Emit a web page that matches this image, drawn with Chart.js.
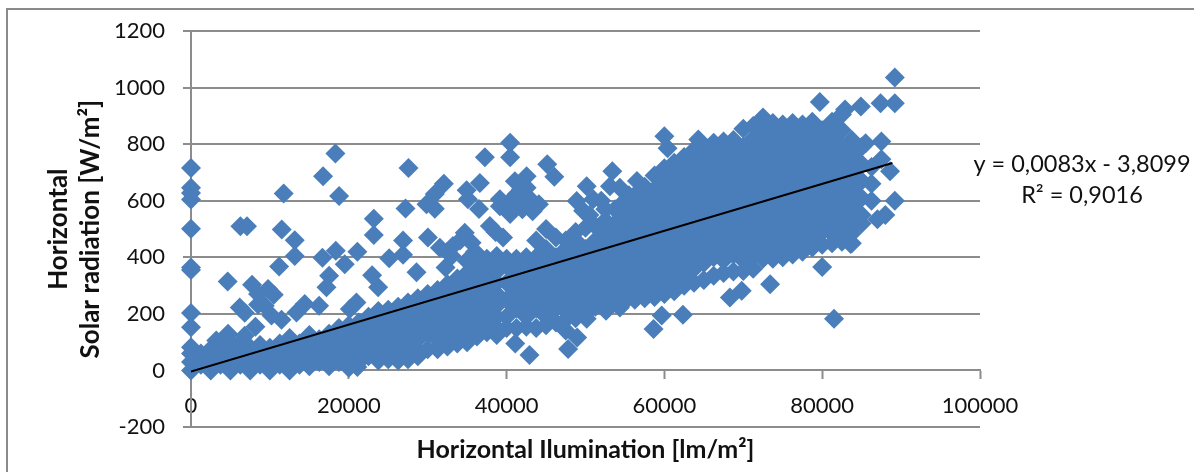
<!DOCTYPE html>
<html>
<head>
<meta charset="utf-8">
<title>Horizontal solar radiation vs illumination</title>
<script src="https://cdn.jsdelivr.net/npm/chart.js@4"></script>
<style>
    html, body { margin: 0; padding: 0; background: #fff; }
    #wrap { position: relative; width: 1194px; height: 472px; overflow: hidden; }
    #frame { position: absolute; left: 6px; top: 8px; width: 1300px; height: 600px;
             border: 2px solid #8a8a8a; pointer-events: none; }
</style>
</head>
<body>
<div id="wrap">
    <canvas id="chart" width="1194" height="472"></canvas>
    <div id="frame"></div>
</div>
<script>
// Tick labels of the value axis and of the illumination axis
const yTicks = [-200, 0, 200, 400, 600, 800, 1000, 1200];
const xTicks = [0, 20000, 40000, 60000, 80000, 100000];

// Trendline ends
const trendX = [0, 88900];
const trendY = [-3.8, 734];
const trendText = ['y = 0,0083x - 3,8099', 'R\u00B2 = 0,9016'];

// Single points standing away from the main cloud: [illumination, radiation]
const outliersLeft = [
    [0, 716], [0, 646], [0, 628], [0, 605], [0, 501], [0, 364], [0, 355], [0, 203], [0, 153],
    [3200, 106], [4000, 100], [4700, 130], [5300, 95], [4650, 315], [6175, 223], [6810, 204],
    [6260, 510], [7100, 510], [7740, 303], [8500, 270], [8500, 233], [9350, 229], [9770, 288],
    [10490, 268], [8170, 155], [6810, 123], [11170, 368], [11500, 499], [11750, 626],
    [13150, 461], [13150, 405], [11470, 179], [10200, 194], [13370, 205], [14420, 235],
    [16240, 229], [16740, 687], [18310, 767], [18770, 617], [16660, 399], [18350, 423],
    [19490, 376], [17510, 335], [17170, 294], [21090, 420], [23170, 537], [23170, 479],
    [22960, 337], [23720, 294], [20970, 240], [20130, 217], [25120, 397], [26880, 460],
    [26880, 409], [27190, 573], [27570, 716], [28580, 347], [21090, 12]
];
const outliersMiddle = [
    [29850, 588], [30900, 624], [32050, 660], [30900, 572], [36610, 663], [34930, 637],
    [35100, 606], [36500, 571], [37250, 754], [40450, 805], [40450, 754], [45150, 729],
    [46050, 685], [41050, 669], [42540, 687], [42540, 646], [41270, 623], [39150, 606],
    [40450, 553], [39150, 581], [41680, 593], [44100, 588], [43000, 606], [37880, 511],
    [39550, 470], [38600, 490], [30030, 470], [31540, 434], [33200, 440], [34700, 487],
    [35560, 452], [33030, 405], [32260, 364], [34930, 388], [36000, 420], [34100, 460],
    [32500, 420], [41800, 640], [42000, 570], [40500, 600], [43300, 563], [41000, 580],
    [50150, 652], [48880, 599], [50980, 606], [49700, 565], [50500, 550], [52000, 600],
    [52500, 570], [53400, 705], [53100, 652], [54360, 646], [56520, 670], [55500, 620],
    [60000, 828], [60400, 786], [64300, 817]
];
const outliersLowRight = [
    [41100, 95], [42900, 55], [47800, 76], [48950, 117], [47500, 141], [50150, 183],
    [52600, 211], [54360, 223], [58630, 147], [59660, 194], [62350, 197], [68300, 258],
    [69800, 282], [73400, 305], [80000, 366], [81500, 183], [83600, 447], [79700, 950],
    [82900, 923], [84900, 934], [87400, 945], [89200, 945], [89200, 1036], [85500, 804],
    [87500, 810], [87500, 747], [88600, 705], [89200, 600], [88000, 550], [87000, 535]
];

// Main cloud, one row per illumination value: [illumination, radiation, radiation, ...]
const cloudBelow20k = [
    [0, 0, 30, 60, 82], [1250, 20, 60], [2500, 0, 40, 75], [3750, 20, 60], [5000, 0, 40, 75],
    [6250, 20, 60, 90], [7500, 0, 40, 80], [8750, 20, 60, 90], [10000, 0, 40, 80],
    [11250, 20, 60, 95], [12500, 0, 40, 80, 115], [13750, 20, 60, 95], [15000, 15, 50, 90, 125],
    [16250, 30, 70, 110], [17500, 15, 50, 90, 130], [18750, 30, 70, 110, 150]
];
const cloudBelow40k = [
    [20000, 10, 50, 90, 130, 160], [21250, 30, 70, 110, 150, 170], [22500, 50, 90, 130, 170, 190],
    [23750, 35, 70, 110, 150, 190, 210], [25000, 40, 90, 130, 170, 215], [26250, 35, 70, 110, 150, 190, 225],
    [27500, 40, 90, 130, 170, 210, 240], [28750, 50, 70, 110, 150, 190, 230, 255],
    [30000, 75, 130, 170, 210, 250, 270], [31250, 75, 110, 150, 190, 230, 270, 285],
    [32500, 85, 130, 170, 210, 250, 290, 305], [33750, 95, 110, 150, 190, 230, 270, 310, 325],
    [35000, 100, 130, 170, 210, 250, 290, 330, 345], [36250, 120, 150, 190, 230, 270, 310, 350, 370],
    [37500, 135, 170, 210, 250, 290, 330, 370, 395], [38750, 125, 150, 190, 230, 270, 310, 350, 390, 405]
];
const cloudBelow60k = [
    [40000, 150, 190, 250, 310, 370, 395], [41250, 150, 220, 280, 340, 395],
    [42500, 155, 190, 250, 310, 370, 400], [43750, 150, 220, 280, 340, 400, 460],
    [45000, 160, 190, 250, 310, 370, 430, 500], [46250, 170, 220, 280, 340, 400, 470],
    [47500, 180, 210, 250, 310, 370, 430, 460], [48750, 185, 220, 280, 340, 400, 460, 490],
    [50000, 200, 225, 250, 310, 370, 430, 505], [51250, 225, 250, 280, 340, 400, 460, 510],
    [52500, 235, 250, 310, 370, 430, 490, 530], [53750, 240, 280, 340, 400, 460, 520, 570],
    [55000, 245, 275, 310, 370, 430, 490, 550, 600], [56250, 250, 280, 340, 400, 460, 520, 580, 620],
    [57500, 255, 280, 310, 370, 430, 490, 550, 610, 650], [58750, 260, 300, 340, 400, 460, 520, 580, 640, 690]
];
const cloudAbove60k = [
    [60000, 270, 310, 370, 430, 490, 550, 610, 670, 715],
    [61250, 280, 310, 340, 400, 460, 520, 580, 640, 700, 735],
    [62500, 300, 340, 370, 430, 490, 550, 610, 670, 730, 755],
    [63750, 310, 360, 400, 460, 520, 580, 640, 700, 760, 780],
    [65000, 320, 380, 430, 490, 550, 610, 670, 730, 790],
    [66250, 335, 400, 460, 520, 580, 640, 700, 760, 805],
    [67500, 345, 390, 430, 490, 550, 610, 670, 730, 790, 810],
    [68750, 350, 410, 460, 520, 580, 640, 700, 760, 815],
    [70000, 352, 390, 430, 490, 550, 610, 670, 730, 790, 855],
    [71250, 360, 400, 460, 520, 580, 640, 700, 760, 820, 865],
    [72500, 395, 430, 490, 550, 610, 670, 730, 790, 850, 895],
    [73750, 395, 420, 460, 520, 580, 640, 700, 760, 820, 875],
    [75000, 400, 430, 490, 550, 610, 670, 730, 790, 850, 870],
    [76250, 410, 435, 460, 520, 580, 640, 700, 760, 820, 875],
    [77500, 420, 455, 490, 550, 610, 670, 730, 790, 850, 870],
    [78750, 435, 460, 520, 580, 640, 700, 760, 820, 880],
    [80000, 445, 490, 550, 610, 670, 730, 790, 850],
    [81250, 450, 485, 520, 580, 640, 700, 760, 820, 880],
    [82500, 455, 490, 550, 610, 670, 730, 790, 850, 905],
    [83750, 450, 485, 520, 580, 640, 700, 760, 815],
    [85000, 520, 550, 610, 670, 730, 790],
    [86250, 600, 660, 720]
];

// Turn the rows above into {x, y} points for the scatter dataset
const cloudRows = [...cloudBelow20k, ...cloudBelow40k, ...cloudBelow60k, ...cloudAbove60k];
const cloudPoints = cloudRows.flatMap(row => row.slice(1).map(y => ({ x: row[0], y: y })));
const outlierPoints = [...outliersLeft, ...outliersMiddle, ...outliersLowRight].map(p => ({ x: p[0], y: p[1] }));

const axisGrey = '#8c8c8c';
const labelFont = 'Lato, "Open Sans", sans-serif';

// Equation text next to the end of the trendline
const trendLabel = {
    id: 'trendLabel',
    afterDraw(chart) {
        const ctx = chart.ctx;
        ctx.save();
        ctx.fillStyle = '#111';
        ctx.font = '23.5px ' + labelFont;
        ctx.textAlign = 'center';
        ctx.textBaseline = 'middle';
        ctx.fillText(trendText[0], 1082, 164);
        ctx.fillText(trendText[1], 1082, 195);
        ctx.restore();
    }
};

new Chart(document.getElementById('chart').getContext('2d'), {
    type: 'scatter',
    data: {
        datasets: [
            {
                label: 'Linear trend',
                data: trendX.map((x, i) => ({ x: x, y: trendY[i] })),
                showLine: true,
                borderColor: '#000',
                borderWidth: 2,
                pointRadius: 0,
                order: 0
            },
            {
                label: 'Measurements',
                data: [...outlierPoints, ...cloudPoints],
                pointStyle: 'rectRot',
                pointRadius: 10,
                pointBackgroundColor: '#4a7ebb',
                pointBorderWidth: 0,
                clip: false, // markers on x = 0 stick out over the axis
                order: 1
            }
        ]
    },
    options: {
        responsive: false,
        animation: false,
        layout: { padding: { left: 42, top: 30, right: 214, bottom: 45 } },
        plugins: {
            legend: { display: false },
            tooltip: { enabled: false }
        },
        scales: {
            x: {
                type: 'linear',
                position: { y: 0 },
                min: 0,
                max: 100000,
                afterBuildTicks: axis => { axis.ticks = xTicks.map(v => ({ value: v })); },
                grid: { drawOnChartArea: false, drawTicks: true, tickLength: 8, tickWidth: 2, tickColor: axisGrey },
                border: { color: axisGrey, width: 2 },
                ticks: {
                    color: '#111',
                    padding: 14,
                    maxRotation: 0,
                    font: { family: labelFont, size: 22 },
                    callback: v => String(v)
                },
                title: {
                    display: true,
                    text: 'Horizontal Ilumination [lm/m\u00B2]',
                    color: '#111',
                    font: { family: labelFont, size: 25, weight: 'bold' },
                    padding: { top: 2, bottom: 0 }
                }
            },
            y: {
                type: 'linear',
                min: -200,
                max: 1200,
                afterBuildTicks: axis => { axis.ticks = yTicks.map(v => ({ value: v })); },
                // the title sits closer to the tick labels than the library leaves room for
                afterFit: axis => { axis.width = 149; },
                grid: { color: axisGrey, lineWidth: 2, tickLength: 8, tickColor: axisGrey },
                border: { color: axisGrey, width: 2 },
                ticks: {
                    color: '#111',
                    padding: 18,
                    font: { family: labelFont, size: 22 },
                    callback: v => String(v)
                },
                title: {
                    display: true,
                    text: ['Horizontal', 'Solar radiation [W/m\u00B2]'],
                    color: '#111',
                    font: { family: labelFont, size: 26, weight: 'bold', lineHeight: 1.25 },
                    padding: { top: 0, bottom: 4 }
                }
            }
        }
    },
    plugins: [trendLabel]
});
</script>
</body>
</html>
